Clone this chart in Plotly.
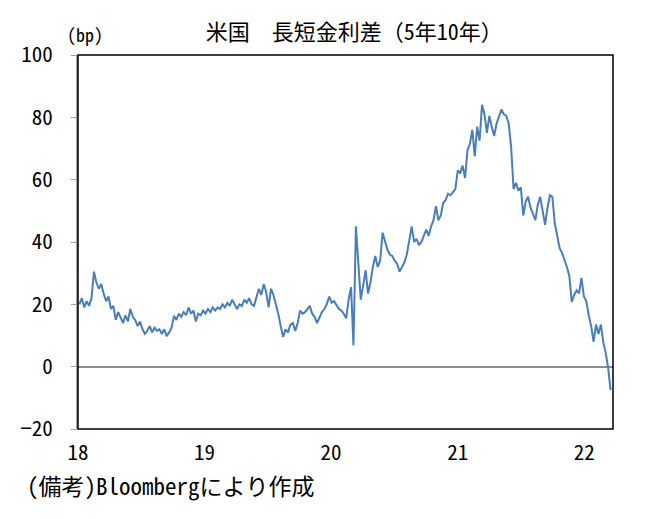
import pandas as pd
import plotly.graph_objects as go

# Wochenwerte 5y-10y Spread (bp)
start_date = "2018-01-05"
spread_bp = [
    20, 22, 19, 21, 19.5, 22, 30.5, 27, 25, 26.5,
    23.5, 21, 22.5, 18.5, 19.5, 15, 17.5, 16, 14, 16.5,
    14.5, 18.5, 16, 15, 13, 14.5, 12, 10.5, 11.5, 13,
    11, 12.5, 11.5, 12, 10.5, 12, 9.8, 11, 12.5, 16.3,
    15, 17, 16, 17.5, 16.5, 19, 17, 18, 14.5, 17,
    16.5, 18, 17, 18.5, 17.5, 19, 18, 19, 18.5, 20,
    19, 20.5, 19.5, 21.5, 20, 18.5, 20, 19.5, 21.5, 20.5,
    22, 20, 19.5, 22, 25, 23, 26.5, 24, 19, 25,
    23, 20, 17, 13, 9.5, 12, 11, 13.5, 14, 11.5,
    14, 18, 17, 17.5, 18.5, 19.5, 17, 16, 14, 16,
    17.5, 18.5, 20, 22.5, 20.5, 21, 19.5, 18.5, 18, 17,
    15.5, 21.5, 25.5, 6.8, 45, 33, 21.5, 26, 31, 23.5,
    27, 32, 35.5, 32, 34, 43, 40, 37.5, 36, 35.5,
    34, 33, 30.5, 32, 33.5, 36, 40.5, 45, 40, 41,
    39, 40, 42, 44, 42, 45, 47, 51.5, 47, 48.5,
    52.5, 53.5, 55.5, 55, 56, 57, 63, 62, 64.5, 60.5,
    69.5, 71.5, 76, 67.5, 77, 72.5, 84, 81, 75, 80.5,
    77, 74, 78, 80, 82.5, 81, 80.5, 78, 70.5, 57,
    59, 56.5, 57.5, 48.5, 53, 54.5, 51, 49, 47, 52,
    54.5, 50, 45.5, 51, 55, 54.5, 46, 42, 38, 36.5,
    34.5, 32, 29, 20.8, 23, 24.5, 23.5, 28.5, 22.5, 21,
    16.5, 13, 8, 13.5, 10.5, 13.5, 7.8, 4.5, -0.5, -7.5,
]
dates = pd.date_range(start_date, periods=len(spread_bp), freq="W-FRI")

y_ticks = [-20, 0, 20, 40, 60, 80, 100]
x_ticks = ["2018-01-01", "2019-01-01", "2020-01-01", "2021-01-01", "2022-01-01"]

mono_font = "Noto Sans Mono CJK JP, Noto Sans CJK JP, monospace"

fig = go.Figure()
fig.add_trace(go.Scatter(
    x=dates, y=spread_bp, mode="lines",
    line=dict(color="#4a7ebb", width=2),
    showlegend=False,
))

# Rahmen (oben, rechts, unten schwarz)
fig.add_shape(type="rect", xref="paper", yref="paper", x0=0, y0=0, x1=1, y1=1,
              line=dict(color="#000000", width=1.5), layer="above")

fig.update_layout(
    width=647, height=511,
    margin=dict(l=66, r=42, t=47, b=90),
    paper_bgcolor="white", plot_bgcolor="white",
    title=dict(text="米国　長短金利差（5年10年）", x=0.535, xanchor="center",
               y=0.953, yanchor="middle",
               font=dict(family=mono_font, size=22, color="#000000")),
    xaxis=dict(
        range=["2018-01-01", "2022-03-25"],
        tickvals=x_ticks, tickformat="%y",
        showgrid=False, ticks="", showline=False,
        tickfont=dict(family=mono_font, size=21, color="#000000"),
        ticklabelstandoff=9,
    ),
    yaxis=dict(
        range=[-20, 100], tickvals=y_ticks,
        showgrid=False, ticks="outside", ticklen=5, tickcolor="#a0a0a0",
        showline=True, linecolor="#a0a0a0", linewidth=2,
        zeroline=True, zerolinecolor="#8c8c8c", zerolinewidth=2,
        tickfont=dict(family=mono_font, size=21, color="#000000"),
        ticklabelstandoff=14,
    ),
    annotations=[
        dict(text="(bp)", xref="paper", yref="paper", x=-0.025, y=1.057,
             xanchor="left", yanchor="middle", showarrow=False,
             font=dict(family=mono_font, size=18, color="#000000")),
        dict(text="(備考)Bloombergにより作成", xref="paper", yref="paper",
             x=-0.1, y=-0.15, xanchor="left", yanchor="middle", showarrow=False,
             font=dict(family=mono_font, size=23, color="#000000")),
    ],
)

fig.write_html("out.html")
